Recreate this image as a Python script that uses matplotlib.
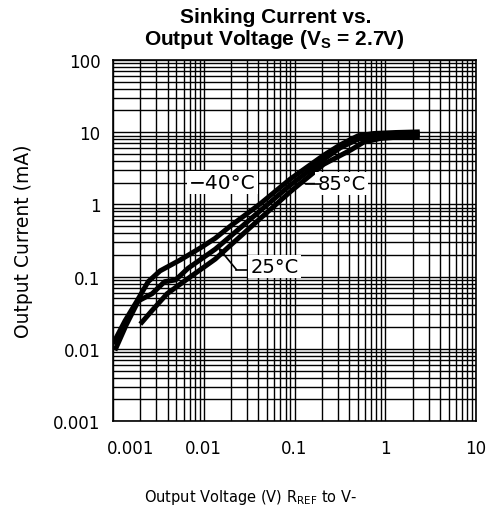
import matplotlib
matplotlib.use("Agg")
import matplotlib.pyplot as plt
from matplotlib.ticker import FixedLocator, LogLocator, NullFormatter
import matplotlib.transforms as mtransforms

plt.rcParams['font.family'] = ['DejaVu Sans']
plt.rcParams['mathtext.fontset'] = 'custom'
plt.rcParams['mathtext.rm'] = 'DejaVu Sans'
plt.rcParams['mathtext.bf'] = 'Liberation Sans:bold'

# curves (V in volts, I in mA)
v_m40 = [0.001, 0.00136, 0.00184, 0.00244, 0.0033, 0.0055, 0.0092, 0.0134, 0.0196,
         0.042, 0.09, 0.21, 0.32, 0.5, 0.75, 1.3, 2.4]
i_m40 = [0.0117, 0.0245, 0.046, 0.085, 0.12, 0.17, 0.25, 0.34, 0.5,
         1.02, 2.25, 4.8, 6.7, 8.9, 9.6, 9.9, 10.1]

v_25 = [0.00105, 0.0014, 0.0019, 0.0027, 0.0037, 0.0049, 0.0067, 0.0134, 0.0196,
        0.042, 0.09, 0.21, 0.32, 0.5, 0.75, 1.3, 2.4]
i_25 = [0.0095, 0.0215, 0.046, 0.058, 0.085, 0.09, 0.13, 0.24, 0.36,
        0.82, 1.85, 4.2, 6.1, 8.0, 8.9, 9.3, 9.5]

v_85 = [0.002, 0.0027, 0.00395, 0.0067, 0.0134, 0.0196, 0.042, 0.09, 0.21,
        0.42, 0.58, 0.89, 1.3, 2.4]
i_85 = [0.022, 0.034, 0.058, 0.094, 0.175, 0.27, 0.64, 1.5, 3.6,
        5.7, 7.3, 8.2, 8.5, 8.7]

x_ticks = [0.001, 0.01, 0.1, 1, 10]
x_labels = ["0.001", "0.01", "0.1", "1", "10"]
y_ticks = [0.001, 0.01, 0.1, 1, 10, 100]
y_labels = ["0.001", "0.01", "0.1", "1", "10", "100"]

fig = plt.figure(figsize=(4.88, 5.06), dpi=100)
ax = fig.add_axes([113/488, 1 - 422/506, 363/488, 361/506])

ax.set_xscale('log')
ax.set_yscale('log')
ax.set_xlim(0.001, 10)
ax.set_ylim(0.001, 100)

ax.xaxis.set_major_locator(FixedLocator(x_ticks))
ax.set_xticklabels(x_labels)
ax.yaxis.set_major_locator(FixedLocator(y_ticks))
ax.set_yticklabels(y_labels)
ax.xaxis.set_minor_locator(LogLocator(base=10, subs=range(2, 10), numticks=20))
ax.yaxis.set_minor_locator(LogLocator(base=10, subs=range(2, 10), numticks=20))
ax.xaxis.set_minor_formatter(NullFormatter())
ax.yaxis.set_minor_formatter(NullFormatter())

ax.grid(True, which='both', color='black', linewidth=1.0)
ax.set_axisbelow(True)
ax.tick_params(which='both', length=0, labelsize=12)
ax.tick_params(axis='x', pad=13)
ax.tick_params(axis='y', pad=9)
for s in ax.spines.values():
    s.set_linewidth(1.2)

# first x label sits to the right of the corner
lab0 = ax.get_xticklabels()[0]
lab0.set_transform(lab0.get_transform() +
                   mtransforms.ScaledTranslation(0.18, 0, fig.dpi_scale_trans))

for v, i in [(v_m40, i_m40), (v_25, i_25), (v_85, i_85)]:
    ax.plot(v, i, color='black', linewidth=3.6, solid_capstyle='butt',
            solid_joinstyle='round', zorder=3)

box = dict(facecolor='white', edgecolor='none', pad=1.5)
ax.text(0.016, 2.0, "\u221240\u00b0C", fontsize=14.5, ha='center', va='center',
        bbox=box, zorder=4)
ax.text(0.33, 1.94, "85\u00b0C", fontsize=14, ha='center', va='center',
        bbox=box, zorder=4)
ax.plot([0.133, 0.19], [1.94, 1.94], color='black', linewidth=1.2, zorder=4)
ax.text(0.0602, 0.138, "25\u00b0C", fontsize=14, ha='center', va='center',
        bbox=box, zorder=4)
ax.plot([0.0303, 0.0229], [0.125, 0.125], color='black', linewidth=1.2, zorder=4)
ax.annotate("", xy=(0.01445, 0.253), xytext=(0.0229, 0.125),
            arrowprops=dict(arrowstyle='->', color='black', lw=1.2,
                            shrinkA=0, shrinkB=0), zorder=4)

fig.text(276/488, 1 - 23/506, "Sinking Current vs.", fontsize=15,
         fontweight='bold', family='Liberation Sans', ha='center', va='baseline')
fig.text(274/488, 1 - 45/506, r"Output Voltage (V$_\mathbf{S}$ = 2.7V)", fontsize=15,
         fontweight='bold', family='Liberation Sans', ha='center', va='baseline')

fig.text(24/488, 1 - 241/506, "Output Current (mA)", fontsize=13.5,
         rotation=90, ha='center', va='center')
fig.text(251/488, 1 - 502/506, r"Output Voltage (V) R$_{\mathrm{REF}}$ to V-",
         fontsize=10.5, ha='center', va='baseline')

fig.savefig("out.png", dpi=100)
